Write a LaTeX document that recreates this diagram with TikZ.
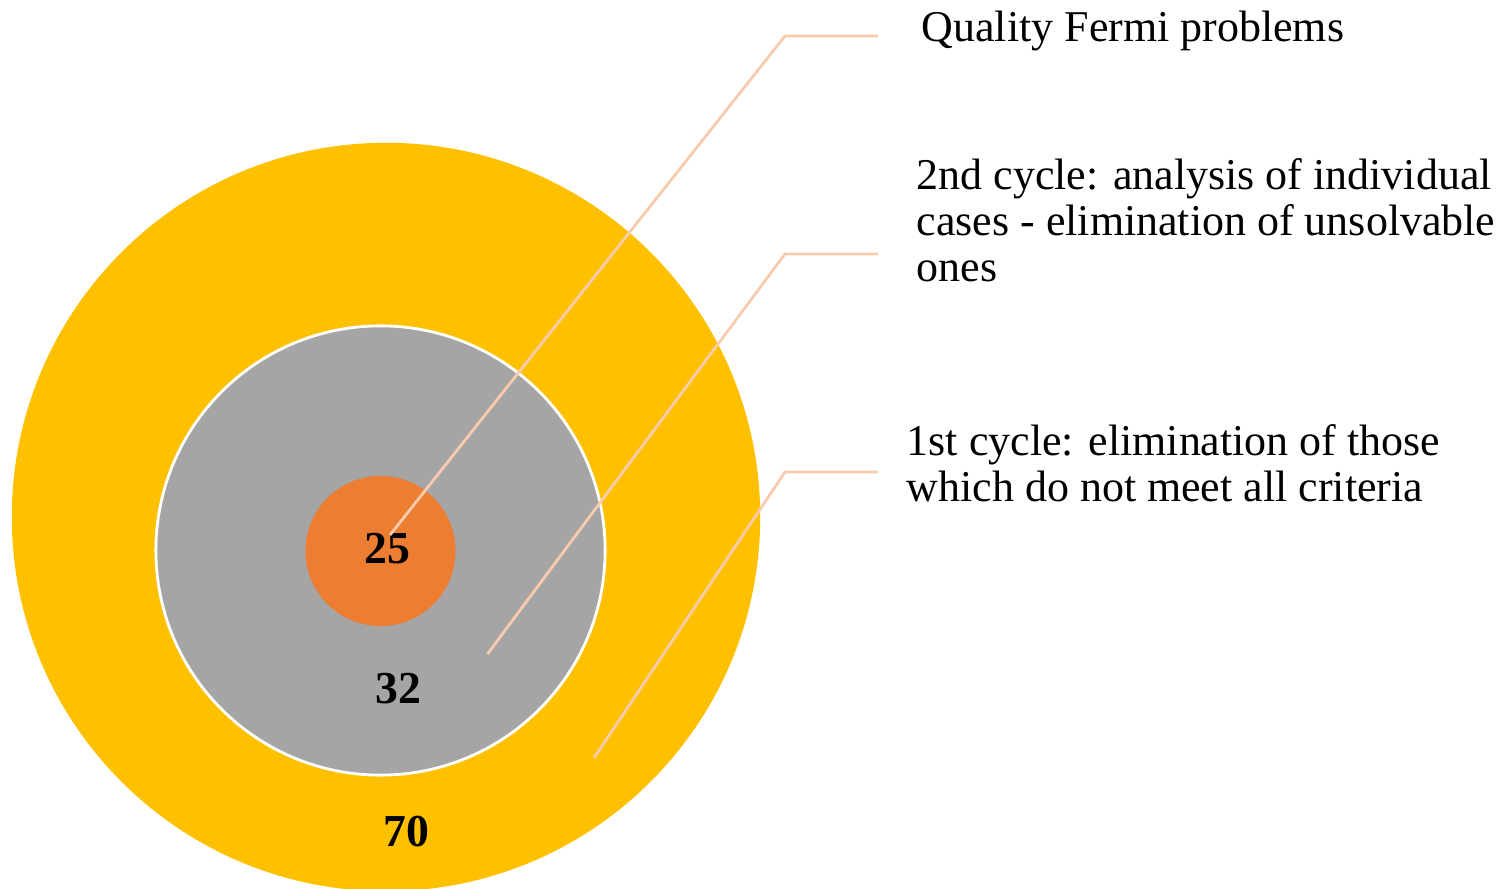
\documentclass[tikz,border=0pt]{standalone}
\usepackage{fontspec}
\setmainfont{Liberation Serif}
\usepackage{xcolor}
\usetikzlibrary{positioning}
\definecolor{ringyellow}{HTML}{FFC000}
\definecolor{ringgray}{HTML}{A5A5A5}
\definecolor{ringorange}{HTML}{ED7D31}
\definecolor{leadpink}{HTML}{F8CBAD}

\begin{document}
\begin{tikzpicture}[x=0.01cm, y=-0.01cm,
	ring/.style={circle, inner sep=0pt},
	num/.style={inner sep=0pt, font=\fontsize{13}{13}\selectfont\bfseries},
	caption/.style={anchor=base west, align=left, inner sep=0pt, font=\fontsize{12.5}{13.1}\selectfont},
	leader/.style={draw=leadpink, line width=0.8pt}]
	\useasboundingbox (0,0) rectangle (1507,889);
	% rings
	\node[ring, fill=ringyellow, minimum size=7.48cm] (outer) at (386,517) {};
	\node[ring, fill=ringgray, draw=white, line width=0.8pt, minimum size=4.49cm] (middle) at (380.5,550.5) {};
	\node[ring, fill=ringorange, minimum size=1.5cm] (inner) at (380.5,551) {};
	\node[num] (n25) at (387,549) {25};
	\node[num] (n32) at (398,689) {32};
	\node[num] (n70) at (406,832) {70};
	% labels (base = last line)
	\node[caption] (quality) at (921,42) {Quality Fermi problems};
	\node[caption] (second) at (916,282) {2nd cycle: analysis of individual\\cases - elimination of unsolvable\\ones};
	\node[caption] (first) at (906,502) {1st cycle: elimination of those\\which do not meet all criteria};
	% leaders
	\coordinate (t1) at (390,535); \coordinate (k1) at (785,36); \coordinate (e1) at (878,36);
	\coordinate (t2) at (487.5,654); \coordinate (k2) at (785,254); \coordinate (e2) at (878,254);
	\coordinate (t3) at (594,758); \coordinate (k3) at (785,472); \coordinate (e3) at (878,472);
	\draw[leader] (t1) -- (k1) -- (e1);
	\draw[leader] (t2) -- (k2) -- (e2);
	\draw[leader] (t3) -- (k3) -- (e3);
\end{tikzpicture}
\end{document}
